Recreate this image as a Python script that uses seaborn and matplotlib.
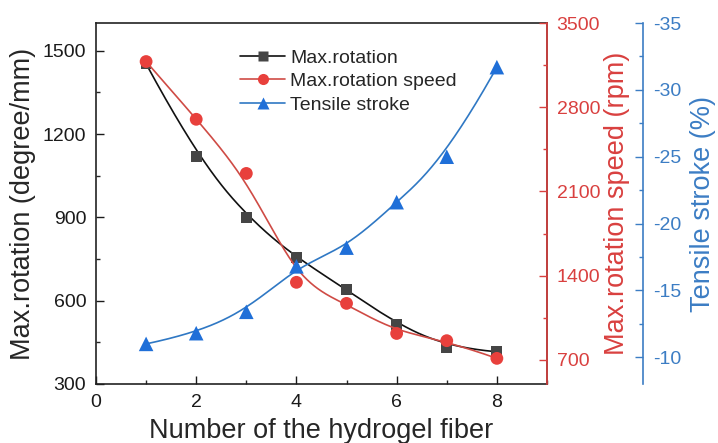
import numpy as np
import pandas as pd
import matplotlib
matplotlib.use("Agg")
import matplotlib.pyplot as plt
from matplotlib.lines import Line2D
from matplotlib.ticker import MultipleLocator
import seaborn as sns

# Data: number of hydrogel fibers vs. performance
fibers = [1, 2, 3, 4, 5, 6, 7, 8]
max_rotation = [1453, 1120, 900, 755, 640, 515, 432, 416]        # degree/mm
max_speed = [3180, 2700, 2250, 1345, 1170, 920, 860, 713]        # rpm
tensile_stroke = [-11.0, -11.8, -13.4, -16.8, -18.2, -21.6, -25.0, -31.7]  # %

labels = ["Max.rotation", "Max.rotation speed", "Tensile stroke"]

sns.set_theme(style="ticks")
plt.rcParams["font.family"] = ["Liberation Sans", "DejaVu Sans"]
plt.rcParams["axes.unicode_minus"] = False


def bspline_curve(xp, yp, deg=3, n=500):
    """Clamped uniform B-spline using the data points as control points."""
    P = np.column_stack([xp, yp]).astype(float)
    m = len(P)
    span = m - deg
    knots = np.r_[np.zeros(deg), np.arange(span + 1), np.full(deg, span)].astype(float)
    t = np.linspace(0, span - 1e-9, n)
    N = np.zeros((n, len(knots) - 1))
    for i in range(len(knots) - 1):
        N[:, i] = (knots[i] <= t) & (t < knots[i + 1])
    for d in range(1, deg + 1):
        Nn = np.zeros((n, len(knots) - 1 - d))
        for i in range(len(knots) - 1 - d):
            a = knots[i + d] - knots[i]
            b = knots[i + d + 1] - knots[i + 1]
            term = np.zeros(n)
            if a > 0:
                term += (t - knots[i]) / a * N[:, i]
            if b > 0:
                term += (knots[i + d + 1] - t) / b * N[:, i + 1]
            Nn[:, i] = term
        N = Nn
    C = N @ P
    return C[:, 0], C[:, 1]


black_line, black_mark = "#111111", "#454545"
red_line, red_mark, red_axis = "#cf4b45", "#e8403c", "#d9403f"
blue_line, blue_mark, blue_axis = "#2f78c4", "#1f6fd8", "#3c7dc4"

fig = plt.figure(figsize=(7.18, 4.43), dpi=100)
ax = fig.add_axes([0.1337, 0.1332, 0.6281, 0.8148])
ax2 = ax.twinx()
ax3 = ax.twinx()

df = pd.DataFrame({"fibers": fibers, "rot": max_rotation,
                   "speed": max_speed, "stroke": tensile_stroke})

# Max.rotation (left axis)
xs, ys = bspline_curve(fibers, max_rotation)
ax.plot(xs, ys, color=black_line, lw=1.2, zorder=2)
sns.scatterplot(data=df, x="fibers", y="rot", ax=ax, marker="s", s=60,
                color=black_mark, edgecolor="none", zorder=3, legend=False)

# Max.rotation speed (red axis)
xs, ys = bspline_curve(fibers, max_speed)
ax2.plot(xs, ys, color=red_line, lw=1.2, zorder=2)
sns.scatterplot(data=df, x="fibers", y="speed", ax=ax2, marker="o", s=85,
                color=red_mark, edgecolor="none", zorder=3, legend=False)

# Tensile stroke (blue axis)
xs, ys = bspline_curve(fibers, tensile_stroke)
ax3.plot(xs, ys, color=blue_line, lw=1.2, zorder=2)
sns.scatterplot(data=df, x="fibers", y="stroke", ax=ax3, marker="^", s=110,
                color=blue_mark, edgecolor="none", zorder=3, legend=False)

tick_fs, label_fs = 14, 19.5

# Left axis
ax.set_xlim(0, 9)
ax.set_ylim(300, 1600)
ax.xaxis.set_major_locator(MultipleLocator(2))
ax.xaxis.set_minor_locator(MultipleLocator(1))
ax.set_yticks([300, 600, 900, 1200, 1500])
ax.yaxis.set_minor_locator(MultipleLocator(150))
ax.set_xlabel("Number of the hydrogel fiber", fontsize=label_fs)
ax.set_ylabel("Max.rotation (degree/mm)", fontsize=label_fs)
ax.tick_params(axis="both", which="major", direction="in", length=6,
               width=1, labelsize=tick_fs, colors="#1a1a1a", pad=7)
ax.tick_params(axis="both", which="minor", direction="in", length=3, width=1)
ax.tick_params(axis="y", which="both", right=False)
for side in ["left", "bottom", "top", "right"]:
    ax.spines[side].set_color("#222222")
    ax.spines[side].set_linewidth(1.2)

# Red axis
ax2.set_ylim(500, 3500)
ax2.set_yticks([700, 1400, 2100, 2800, 3500])
ax2.yaxis.set_minor_locator(MultipleLocator(350))
ax2.set_ylabel("Max.rotation speed (rpm)", fontsize=label_fs, color=red_axis)
ax2.tick_params(axis="y", which="major", direction="in", length=6, width=1,
                labelsize=tick_fs, colors=red_axis, pad=7)
ax2.tick_params(axis="y", which="minor", direction="in", length=3, width=1,
                colors=red_axis)
ax2.spines["right"].set_color(red_axis)
ax2.spines["right"].set_linewidth(1.2)
for side in ["left", "top", "bottom"]:
    ax2.spines[side].set_visible(False)

# Blue axis (offset outward)
ax3.spines["right"].set_position(("axes", 1.2129))
ax3.set_ylim(-8, -35)
ax3.set_yticks([-10, -15, -20, -25, -30, -35])
ax3.yaxis.set_minor_locator(MultipleLocator(2.5))
ax3.set_ylabel("Tensile stroke (%)", fontsize=label_fs, color=blue_axis)
ax3.tick_params(axis="y", which="major", direction="in", length=6, width=1,
                labelsize=tick_fs, colors=blue_axis, pad=7)
ax3.tick_params(axis="y", which="minor", direction="in", length=3, width=1,
                colors=blue_axis)
ax3.spines["right"].set_color(blue_axis)
ax3.spines["right"].set_linewidth(1.2)
for side in ["left", "top", "bottom"]:
    ax3.spines[side].set_visible(False)
ax2.set_xlabel("")
ax3.set_xlabel("")

# Axis label placement
ax.yaxis.label.set_va("center")
ax.yaxis.set_label_coords(-0.162, 0.5)
ax2.yaxis.label.set_va("center")
ax2.yaxis.set_label_coords(1.155, 0.5)
ax3.yaxis.label.set_va("center")
ax3.yaxis.set_label_coords(1.346, 0.5)
ax.xaxis.set_label_coords(0.5, -0.095)

handles = [
    Line2D([], [], color=black_line, lw=1.2, marker="s", markersize=6.5,
           markerfacecolor=black_mark, markeredgecolor="none"),
    Line2D([], [], color=red_line, lw=1.2, marker="o", markersize=8,
           markerfacecolor=red_mark, markeredgecolor="none"),
    Line2D([], [], color=blue_line, lw=1.2, marker="^", markersize=8.5,
           markerfacecolor=blue_mark, markeredgecolor="none"),
]
ax3.legend(handles, labels, loc="upper left", bbox_to_anchor=(0.32, 0.928),
           frameon=False, fontsize=14, handlelength=2.3, handletextpad=0.25,
           labelspacing=0.30, borderpad=0, borderaxespad=0)

fig.savefig("out.png", dpi=100)
